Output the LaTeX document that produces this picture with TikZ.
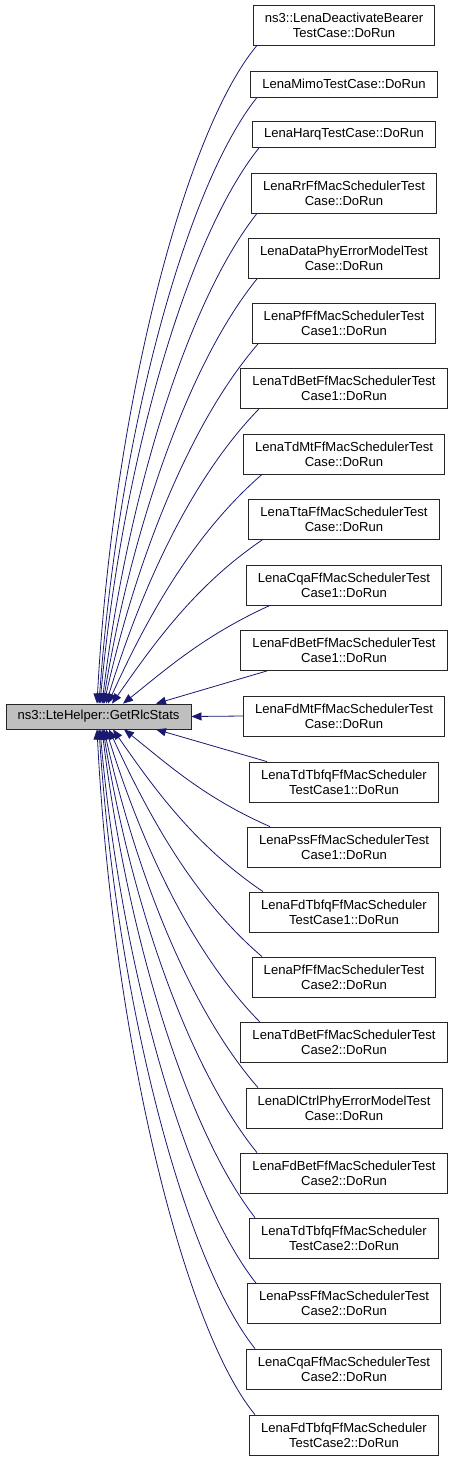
\documentclass[tikz,border=0pt]{standalone}
\usepackage{fontspec}
\setmainfont{Liberation Sans}
\usepackage{xcolor}
\usepackage{tikz}
\usetikzlibrary{arrows.meta, positioning, calc}

\definecolor{edgeblue}{HTML}{191970}
\definecolor{helpergray}{HTML}{BFBFBF}

\begin{document}
\begin{tikzpicture}[
    x=0.75pt, y=-0.75pt,
    caller/.style={rectangle, draw=black!85, line width=0.6pt, minimum height=30pt, inner xsep=8.7pt, inner ysep=2pt, align=center, font=\fontsize{9.8}{11.25}\selectfont},
    callerone/.style={caller, minimum height=19.5pt},
    helper/.style={caller, minimum height=18.75pt, fill=helpergray},
    calls/.style={draw=edgeblue, line width=0.6pt, -{Triangle[length=7.5pt, width=6pt]}}
]
\useasboundingbox (0,0) rectangle (453,1460);

% Called function
\node[helper] (main) at (98.5,716.5) {ns3::LteHelper::GetRlcStats};

% Callers
\node[caller] (c1) at (344,25) {ns3::LenaDeactivateBearer\\TestCase::DoRun};
\node[callerone] (c2) at (344,84) {LenaMimoTestCase::DoRun};
\node[callerone] (c3) at (344,134.5) {LenaHarqTestCase::DoRun};
\node[caller] (c4) at (344,193) {LenaRrFfMacSchedulerTest\\Case::DoRun};
\node[caller] (c5) at (344,258.5) {LenaDataPhyErrorModelTest\\Case::DoRun};
\node[caller] (c6) at (344,323.5) {LenaPfFfMacSchedulerTest\\Case1::DoRun};
\node[caller] (c7) at (344,388.5) {LenaTdBetFfMacSchedulerTest\\Case1::DoRun};
\node[caller] (c8) at (344,454) {LenaTdMtFfMacSchedulerTest\\Case::DoRun};
\node[caller] (c9) at (344,519) {LenaTtaFfMacSchedulerTest\\Case::DoRun};
\node[caller] (c10) at (344,585) {LenaCqaFfMacSchedulerTest\\Case1::DoRun};
\node[caller] (c11) at (344,650.5) {LenaFdBetFfMacSchedulerTest\\Case1::DoRun};
\node[caller] (c12) at (344,716) {LenaFdMtFfMacSchedulerTest\\Case::DoRun};
\node[caller] (c13) at (344,782) {LenaTdTbfqFfMacScheduler\\TestCase1::DoRun};
\node[caller] (c14) at (344,847) {LenaPssFfMacSchedulerTest\\Case1::DoRun};
\node[caller] (c15) at (344,912) {LenaFdTbfqFfMacScheduler\\TestCase1::DoRun};
\node[caller] (c16) at (344,977) {LenaPfFfMacSchedulerTest\\Case2::DoRun};
\node[caller] (c17) at (344,1042.5) {LenaTdBetFfMacSchedulerTest\\Case2::DoRun};
\node[caller] (c18) at (344,1108) {LenaDlCtrlPhyErrorModelTest\\Case::DoRun};
\node[caller] (c19) at (344,1173) {LenaFdBetFfMacSchedulerTest\\Case2::DoRun};
\node[caller] (c20) at (344,1238) {LenaTdTbfqFfMacScheduler\\TestCase2::DoRun};
\node[caller] (c21) at (344,1303.5) {LenaPssFfMacSchedulerTest\\Case2::DoRun};
\node[caller] (c22) at (344,1369) {LenaCqaFfMacSchedulerTest\\Case2::DoRun};
\node[caller] (c23) at (344,1435) {LenaFdTbfqFfMacScheduler\\TestCase2::DoRun};

% Calls from above
\foreach \n/\sx/\ex/\ax/\ay/\bx/\by in {1/-87/-1.5/-72/86/16/-297, 2/-87/0.5/-71/89/19/-268,
    3/-85/1.5/-72/90/22/-241, 4/-87/3.5/-70/89/25/-206, 5/-87/4.5/-69/85/28/-173,
    6/-86/5.5/-69/80/32/-143, 7/-85/7.5/-69/71/35/-114, 8/-82/9.5/-69/60/39/-86,
    9/-81/13.5/-68/46/42/-60, 10/-74/24.5/-66/30/44/-35}
    \draw[calls] ($(c\n.south)+(\sx,0)$) .. controls +(\ax,\ay) and +(\bx,\by) .. ($(main.north)+(\ex,0)$);
\draw[calls] ($(c11.south)+(-77,0)$) -- ($(main.north)+(57.5,0)$);

% Straight call
\draw[calls] (c12.west) -- (main.east);

% Calls from below
\draw[calls] ($(c13.north)+(-77,0)$) -- ($(main.south)+(57.5,0)$);
\foreach \n/\sx/\ex/\ax/\ay/\bx/\by in {14/-74/25.5/-66/-29/44/35, 15/-81/14.5/-68/-46/41/59,
    16/-82/10.5/-69/-59/39/85, 17/-84/7.5/-69/-70/35/113, 18/-86/5.5/-69/-79/32/143,
    19/-87/4.5/-69/-85/28/173, 20/-89/3.5/-69/-89/25/205, 21/-88/1.5/-70/-89/21/239,
    22/-89/0.5/-70/-88/18/276, 23/-89/-1.5/-71/-86/16/311}
    \draw[calls] ($(c\n.north)+(\sx,0)$) .. controls +(\ax,\ay) and +(\bx,\by) .. ($(main.south)+(\ex,0)$);
\end{tikzpicture}
\end{document}
